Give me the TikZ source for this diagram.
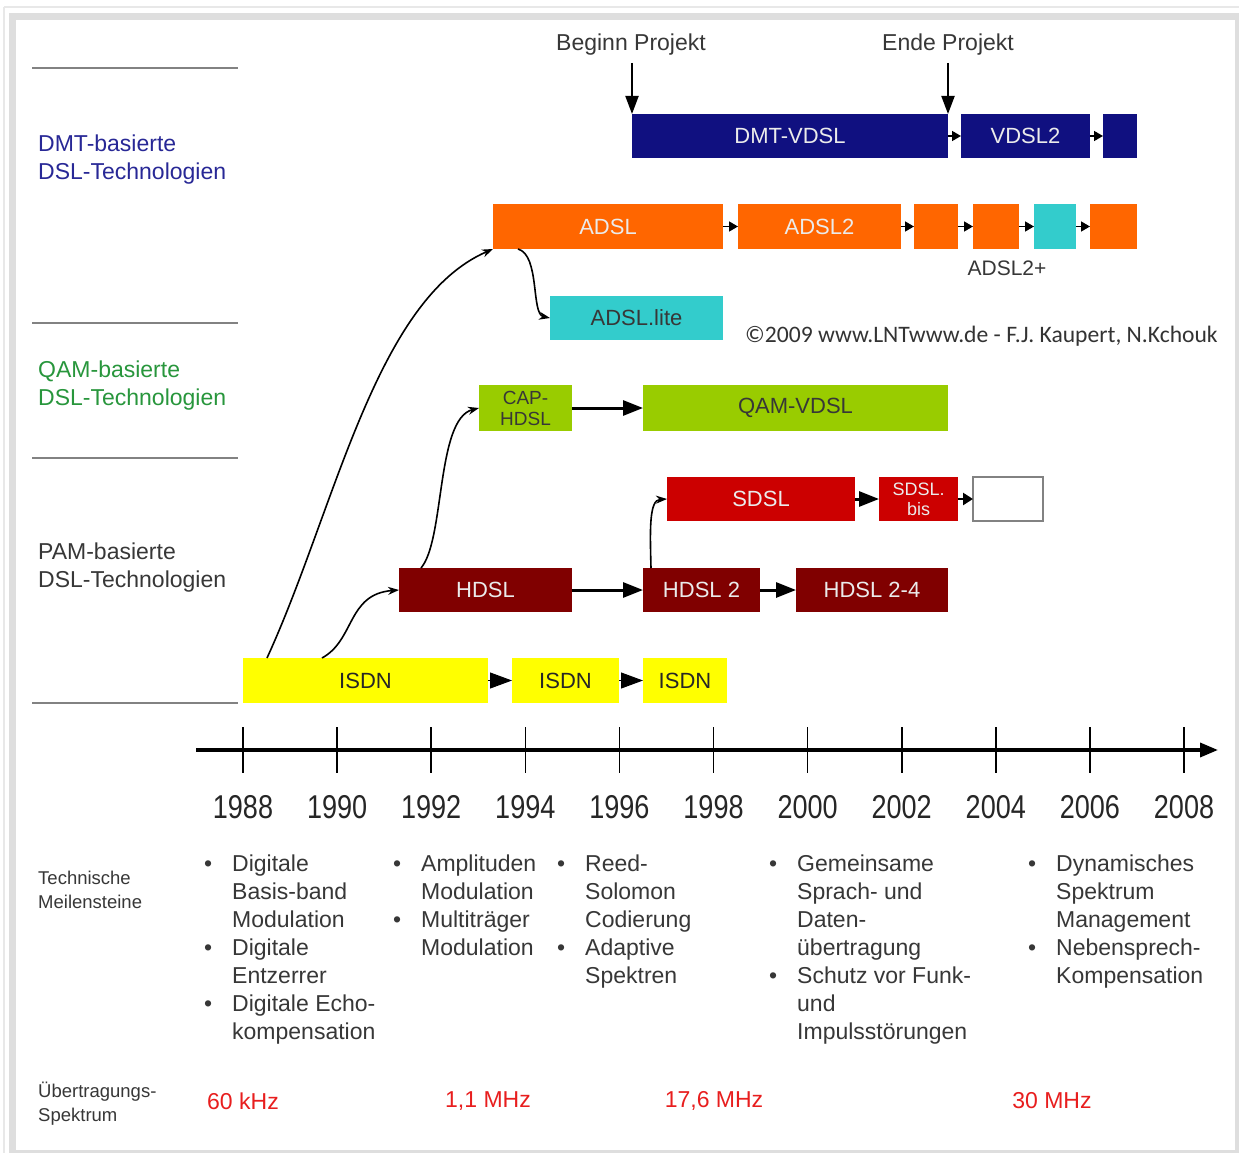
\documentclass[tikz,border=0pt]{standalone}
\usepackage{fontspec}
\setmainfont{Liberation Sans}
\newfontfamily\cpfont{Carlito}
\newfontfamily\narrowfont[FakeStretch=0.82]{Liberation Sans}
\usetikzlibrary{arrows.meta}

\definecolor{navy}{RGB}{16,16,128}
\definecolor{orng}{RGB}{255,102,0}
\definecolor{cyn}{RGB}{51,204,204}
\definecolor{lime}{RGB}{153,204,0}
\definecolor{sred}{RGB}{204,0,0}
\definecolor{dred}{RGB}{128,0,0}
\definecolor{yel}{RGB}{255,255,0}
\definecolor{dmtblue}{RGB}{40,40,150}
\definecolor{qamgreen}{RGB}{40,150,60}
\definecolor{txtgray}{RGB}{55,55,55}
\definecolor{redtxt}{RGB}{232,30,30}
\definecolor{framegray}{RGB}{222,222,222}
\definecolor{sepgray}{RGB}{130,130,130}
\definecolor{lighttxt}{RGB}{235,235,235}

\newcommand{\bl}{\makebox[28pt][l]{\textbullet}}
\newcommand{\ind}{\hspace*{28pt}}

\begin{document}
\begin{tikzpicture}[x=1pt,y=-1pt,
  bx/.style={inner sep=0pt, outer sep=0pt, align=center,
    font=\fontsize{22}{24}\selectfont},
  lbl/.style={inner sep=0pt, align=left, text=txtgray,
    font=\fontsize{23}{28}\selectfont},
  small/.style={inner sep=0pt, align=left, text=txtgray,
    font=\fontsize{18.5}{24}\selectfont},
  tiny/.style={-{Triangle[length=9pt,width=10pt]}, line width=1.5pt},
  big/.style={-{Triangle[length=20pt,width=15pt]}, line width=3pt},
  curv/.style={-{Stealth[length=11pt,width=8pt]}, line width=1.6pt},
  proj/.style={-{Triangle[length=18pt,width=13pt]}, line width=2pt},
  sepline/.style={draw=sepgray, line width=2.5pt},
  yr/.style={inner sep=0pt, font=\narrowfont\fontsize{33}{36}\selectfont, text=black!85},
  freq/.style={inner sep=0pt, font=\fontsize{23}{26}\selectfont, text=redtxt}]

% canvas and frame
\useasboundingbox (0,0) rectangle (1239,1153);
\fill[white] (0,0) rectangle (1239,1153);
\draw[framegray!70, line width=1.2pt] (4,7) -- (1239,7);
\draw[framegray!70, line width=1.2pt] (4,7) -- (4,1153);
\fill[framegray] (9,13) rectangle (1239,20);
\fill[framegray] (9,13) rectangle (16,1153);
\fill[framegray] (1235,13) rectangle (1239,1153);
\fill[framegray] (9,1150) rectangle (1239,1153);

% group separators on the left
\foreach \yy/\nm in {68/a,323/b,458/c,703/d}{
  \coordinate (s\nm0) at (32,\yy);
  \coordinate (s\nm1) at (238,\yy);
  \draw[sepline] (s\nm0) -- (s\nm1);
}

% group titles
\node[lbl, text=dmtblue, anchor=west] (tdmt) at (38,160) {DMT-basierte\\DSL-Technologien};
\node[lbl, text=qamgreen, anchor=west] (tqam) at (38,386) {QAM-basierte\\DSL-Technologien};
\node[lbl, anchor=west] (tpam) at (38,568) {PAM-basierte\\DSL-Technologien};

% DMT row
\node[bx, fill=navy, text=lighttxt, minimum width=316pt, minimum height=44pt] (dmt) at (790,136) {DMT-VDSL};
\node[bx, fill=navy, text=lighttxt, minimum width=129pt, minimum height=44pt] (vdsl2) at (1025.5,136) {VDSL2};
\node[bx, fill=navy, minimum width=34pt, minimum height=44pt] (vdsl3) at (1120,136) {};
\draw[tiny] (dmt) -- (vdsl2);
\draw[tiny] (vdsl2) -- (vdsl3);

\node[inner sep=0pt, font=\fontsize{23}{26}\selectfont, text=txtgray] (bp) at (631,45) {Beginn Projekt};
\node[inner sep=0pt, font=\fontsize{23}{26}\selectfont, text=txtgray] (ep) at (948,45) {Ende Projekt};
\draw[proj] ([yshift=-7pt]bp.south -| dmt.north west) -- (dmt.north west);
\draw[proj] ([yshift=-7pt]ep.south -| dmt.north east) -- (dmt.north east);

% ADSL row
\node[bx, fill=orng, text=lighttxt, minimum width=230pt, minimum height=45pt] (adsl) at (608,226.5) {ADSL};
\node[bx, fill=orng, text=lighttxt, minimum width=163pt, minimum height=45pt] (adsl2) at (819.5,226.5) {ADSL2};
\node[bx, fill=orng, minimum width=44pt, minimum height=45pt] (a3) at (936,226.5) {};
\node[bx, fill=orng, minimum width=46pt, minimum height=45pt] (a4) at (996,226.5) {};
\node[bx, fill=cyn, minimum width=42pt, minimum height=45pt] (a5) at (1055,226.5) {};
\node[bx, fill=orng, minimum width=47pt, minimum height=45pt] (a6) at (1113.5,226.5) {};
\draw[tiny] (adsl) -- (adsl2);
\draw[tiny] (adsl2) -- (a3);
\draw[tiny] (a3) -- (a4);
\draw[tiny] (a4) -- (a5);
\draw[tiny] (a5) -- (a6);
\node[inner sep=0pt, font=\fontsize{21}{24}\selectfont, text=txtgray] (adslp) at (1007,268) {ADSL2+};

\node[bx, fill=cyn, text=txtgray, minimum width=173pt, minimum height=44pt] (lite) at (636.5,318) {ADSL.lite};
\draw[curv] ([xshift=25pt]adsl.south west) .. controls +(22,6) and +(-19,-4) .. (lite.west);

\node[inner sep=0pt, anchor=west, font=\cpfont\fontsize{23.6}{25}\selectfont, text=black!80] (copy) at (745,336) {©2009 www.LNTwww.de - F.J. Kaupert, N.Kchouk};

% QAM row
\node[bx, fill=lime, text=txtgray, minimum width=93pt, minimum height=46pt, font=\fontsize{19}{21}\selectfont] (cap) at (525.5,408) {CAP-\\HDSL};
\node[bx, fill=lime, text=txtgray, minimum width=305pt, minimum height=46pt] (qam) at (795.5,408) {QAM-VDSL};
\draw[big] (cap) -- (qam);

% SDSL row
\node[bx, fill=sred, text=lighttxt, minimum width=188pt, minimum height=44pt] (sdsl) at (761,499) {SDSL};
\node[bx, fill=sred, text=lighttxt, minimum width=79pt, minimum height=44pt, font=\fontsize{18}{20}\selectfont] (sbis) at (918.5,499) {SDSL.\\bis};
\node[bx, draw=sepgray, line width=1.2pt, fill=white, minimum width=70pt, minimum height=44pt] (snext) at (1008,499) {};
\draw[big] (sdsl) -- (sbis);
\draw[-{Triangle[length=10pt,width=12pt]}, line width=2.5pt] (sbis) -- (snext);

% HDSL row
\node[bx, fill=dred, text=lighttxt, minimum width=173pt, minimum height=44pt] (hdsl) at (485.5,590) {HDSL};
\node[bx, fill=dred, text=lighttxt, minimum width=117pt, minimum height=44pt] (hdsl2) at (701.5,590) {HDSL 2};
\node[bx, fill=dred, text=lighttxt, minimum width=152pt, minimum height=44pt] (hdsl24) at (872,590) {HDSL 2-4};
\draw[big] (hdsl) -- (hdsl2);
\draw[big] (hdsl2) -- (hdsl24);
\draw[curv] ([xshift=8pt]hdsl2.north west) .. controls +(-1,-38) and +(-18,1) .. (sdsl.west);
\draw[curv] ([xshift=22pt]hdsl.north west) .. controls +(24,-28) and +(-43,11) .. (cap.west);

% ISDN row
\node[bx, fill=yel, text=black!85, minimum width=245pt, minimum height=45pt] (isdn1) at (365.5,680.5) {ISDN};
\node[bx, fill=yel, text=black!85, minimum width=107pt, minimum height=45pt] (isdn2) at (565.5,680.5) {ISDN};
\node[bx, fill=yel, text=black!85, minimum width=84pt, minimum height=45pt] (isdn3) at (685,680.5) {ISDN};
\draw[-{Triangle[length=22pt,width=16pt]}, line width=1pt] (isdn1) -- (isdn2);
\draw[-{Triangle[length=22pt,width=16pt]}, line width=1pt] (isdn2) -- (isdn3);
\draw[curv] ([xshift=24pt]isdn1.north west) .. controls (335,510) and (375,300) .. (adsl.south west);
\draw[curv] ([xshift=79pt]isdn1.north west) .. controls +(33,-18) and +(-52,4) .. (hdsl.west);

% time axis
\coordinate (ax0) at (196,750);
\coordinate (ax1) at (1218,750);
\draw[-{Triangle[length=18pt,width=14pt]}, line width=3.5pt] (ax0) -- (ax1);
\foreach \i in {0,...,10}{
  \pgfmathsetmacro{\xx}{243+94.1*\i}
  \pgfmathtruncatemacro{\yy}{1988+2*\i}
  \coordinate (t\i a) at (\xx,727);
  \coordinate (t\i b) at (\xx,773);
  \draw[line width=1.6pt] (t\i a) -- (t\i b);
  \node[yr] (y\i) at (\xx,807) {\yy};
}

% milestones
\node[small, anchor=north west] (tm) at (38,871) {Technische\\Meilensteine};
\node[lbl, anchor=north west] (m1) at (204,855) {\bl Digitale\\\ind Basis-band\\\ind Modulation\\\bl Digitale\\\ind Entzerrer\\\bl Digitale Echo-\\\ind kompensation};
\node[lbl, anchor=north west] (m2) at (393,855) {\bl Amplituden\\\ind Modulation\\\bl Multiträger\\\ind Modulation};
\node[lbl, anchor=north west] (m3) at (557,855) {\bl Reed-\\\ind Solomon\\\ind Codierung\\\bl Adaptive\\\ind Spektren};
\node[lbl, anchor=north west] (m4) at (769,855) {\bl Gemeinsame\\\ind Sprach- und\\\ind Daten-\\\ind übertragung\\\bl Schutz vor Funk-\\\ind und\\\ind Impulsstörungen};
\node[lbl, anchor=north west] (m5) at (1028,855) {\bl Dynamisches\\\ind Spektrum\\\ind Management\\\bl Nebensprech-\\\ind Kompensation};

% transmission spectrum
\node[small, anchor=west] (ts) at (38,1104) {Übertragungs-\\Spektrum};
\node[freq] (f1) at (243,1101) {60 kHz};
\node[freq] (f2) at (488,1101) {1,1 MHz};
\node[freq] (f3) at (714,1101) {17,6 MHz};
\node[freq] (f4) at (1052,1101) {30 MHz};
\end{tikzpicture}
\end{document}
